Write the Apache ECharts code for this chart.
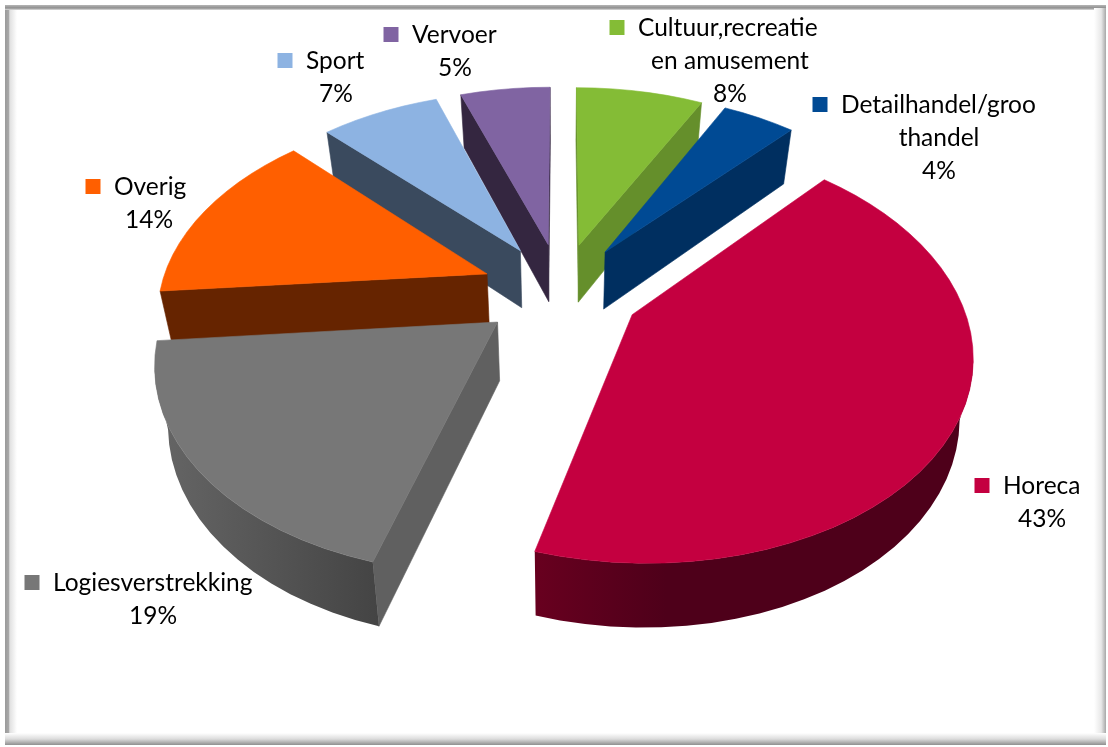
<!DOCTYPE html>
<html><head><meta charset="utf-8">
<style>html,body{margin:0;padding:0;background:#fff}#c{width:1108px;height:747px}</style>
<script src="https://cdn.jsdelivr.net/npm/echarts@6/dist/echarts.min.js"></script>
</head><body><div id="c"></div>
<script>
// data
var categories = ['Cultuur,recreatie en amusement','Detailhandel/groothandel','Horeca','Logiesverstrekking','Overig','Sport','Vervoer'];
var values = [7.5,4.3,42.7,19.1,14.1,7.0,5.3];
// styles and layout
var labelLines = [['Cultuur,recreatie','en amusement'],['Detailhandel/groo','thandel'],['Horeca'],['Logiesverstrekking'],['Overig'],['Sport'],['Vervoer']];
var topColors = ['#84BC36','#004A94','#C40040','#777777','#FF5F00','#8DB3E2','#8064A2'];
var faceColors = ['#658F2B','#002F60','#4E001A','#606060','#662400','#3A4A5E','#342640'];
var wallColors = [['#658F2B','#658F2B'],['#002F60','#002F60'],['#68001F','#4E001A'],['#666666','#444444'],['#662400','#662400'],['#3A4A5E','#3A4A5E'],['#342640','#342640']];
var labelPos = [[617,28,730],[820,105,939],[982,486,1042],[32,583,153],[93,187,149],[285,61,336],[391,35,455]];
var drawOrder = [6,0,5,1,4,2,3];
var view = {cx:561,cy:290.5,k:0.605,f:1950,R:327,e:80,h:58,taper:0.033,steps:96};
var FONT = 'Lato, Carlito, sans-serif', FS = 24.5, LH = 33;

var total = values.reduce(function(a,b){return a+b;},0);
function project(a,r,m,h){
  var X = view.e*Math.sin(m)+r*Math.sin(a), Z = view.e*Math.cos(m)+r*Math.cos(a), s = view.f/(view.f+Z);
  return [view.cx+X*s*(1-view.taper*h/view.h), view.cy-view.k*Z*s+h*Math.sqrt(s)];
}
function poly(points,fill,z){
  return {type:'polygon',z2:z,shape:{points:points},style:{fill:fill,stroke:fill,lineWidth:0.6}};
}
function renderItem(params,api){
  var i = api.value(1), v = api.value(0), start = 0;
  for(var j=0;j<i;j++) start += values[j];
  var a0 = start/total*2*Math.PI, a1 = (start+v)/total*2*Math.PI, m = (a0+a1)/2, kids = [];
  var n = Math.max(4,Math.round(view.steps*v/total)), top = [], bot = [];
  for(j=0;j<=n;j++){
    var a = a0+(a1-a0)*j/n;
    top.push(project(a,view.R,m,0)); bot.push(project(a,view.R,m,view.h));
  }
  var apexT = project(0,0,m,0), apexB = project(0,0,m,view.h);
  function face(t,b,sign){
    var cross = (t[0]-apexT[0])*(b[1]-t[1])-(t[1]-apexT[1])*(b[0]-t[0]);
    if(cross*sign>0) kids.push(poly([apexT,t,b,apexB],faceColors[i],1));
  }
  face(top[0],bot[0],-1);
  face(top[n],bot[n],1);
  var wt = [], wb = [];
  for(j=0;j<n;j++){
    if(top[j+1][0]<top[j][0]){
      if(!wt.length){wt.push(top[j]);wb.push(bot[j]);}
      wt.push(top[j+1]);wb.push(bot[j+1]);
    }
  }
  if(wt.length){
    var grad = new echarts.graphic.LinearGradient(0,0,1,0,[{offset:0,color:wallColors[i][0]},{offset:1,color:wallColors[i][1]}]);
    if(i===2) grad = new echarts.graphic.LinearGradient(0,0,1,0,[{offset:0,color:wallColors[i][0]},{offset:0.3,color:wallColors[i][1]},{offset:1,color:wallColors[i][1]}]);
    kids.push({type:'polygon',z2:2,shape:{points:wt.concat(wb.reverse())},style:{fill:grad}});
  }
  kids.push(poly([apexT].concat(top),topColors[i],3));
  // label
  var p = labelPos[i], lines = labelLines[i];
  kids.push({type:'rect',z2:5,shape:{x:p[0]-7.5,y:p[1]-8,width:15,height:15},style:{fill:topColors[i]}});
  kids.push({type:'text',z2:5,style:{x:p[0]+21,y:p[1],text:lines[0],fill:'#000',font:FS+'px '+FONT,textAlign:'left',textVerticalAlign:'middle'}});
  var rest = lines.slice(1).concat([Math.round(v)+'%']);
  rest.forEach(function(t,q){
    kids.push({type:'text',z2:5,style:{x:p[2],y:p[1]+LH*(q+1),text:t,fill:'#000',font:FS+'px '+FONT,textAlign:'center',textVerticalAlign:'middle'}});
  });
  return {type:'group',children:kids};
}
function band(x,y,w,h,x2,y2,stops){
  return {type:'rect',shape:{x:x,y:y,width:w,height:h},silent:true,style:{fill:new echarts.graphic.LinearGradient(0,0,x2,y2,stops)}};
}
var W=1108,H=747;
var chart = echarts.init(document.getElementById('c'),null,{renderer:'canvas'});
chart.setOption({
  animation:false,
  backgroundColor:'#ffffff',
  graphic:{elements:[
    band(5,5,12,H-7,1,0,[{offset:0,color:'#9a9a9a'},{offset:0.3,color:'#a8a8a8'},{offset:0.4,color:'#e0e0e0'},{offset:1,color:'#ffffff'}]),
    band(5,5,W-7,5,0,1,[{offset:0,color:'#b5b5b5'},{offset:0.6,color:'#8f8f8f'},{offset:1,color:'#dddddd'}]),
    band(W-14,8,12,H-10,1,0,[{offset:0,color:'#ffffff'},{offset:0.6,color:'#e8e8e8'},{offset:1,color:'#a8a8a8'}]),
    band(5,H-14,W-7,12,0,1,[{offset:0,color:'#ffffff'},{offset:0.5,color:'#dcdcdc'},{offset:1,color:'#8f8f8f'}])
  ]},
  series:[{
    type:'custom',coordinateSystem:'none',silent:true,
    renderItem:renderItem,
    data:drawOrder.map(function(i){return {name:categories[i],value:[values[i],i]};})
  }]
});
</script></body></html>
